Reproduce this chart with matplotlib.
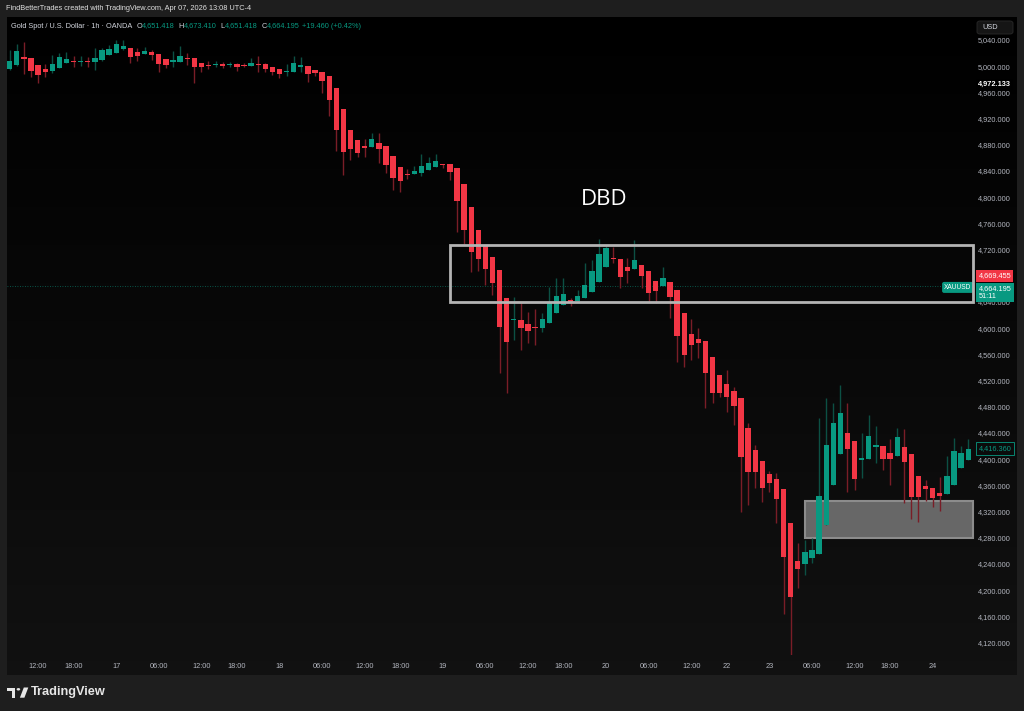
import numpy as np
import matplotlib
matplotlib.use('Agg')
import matplotlib.pyplot as plt
from matplotlib.patches import Rectangle, FancyBboxPatch, Circle, Polygon

# Dades de les espelmes (XAUUSD 1h, 16/03 08:00 -> 24/03 05:00)
opens = [4995.2, 5001.3, 5013.5, 5012.0, 5002.3, 4995.2, 4992.7, 4996.7, 5005.4, 5008.4,
         5006.4, 5008.0, 5006.4, 5009.5, 5016.6, 5020.7, 5026.8, 5028.3, 5021.2, 5018.6,
         5021.2, 5018.6, 5011.5, 5006.4, 5006.9, 5012.5, 5012.0, 5004.9, 5002.3, 5001.8,
         5003.4, 5001.3, 5002.8, 5002.3, 5000.8, 5003.4, 5002.8, 4998.8, 4995.2, 4991.7,
         4991.7, 4998.3, 5000.3, 4994.2, 4991.7, 4985.0, 4966.2, 4934.1, 4902.1, 4887.8,
         4877.7, 4876.1, 4883.3, 4877.7, 4863.4, 4846.1, 4835.9, 4834.9, 4837.5, 4842.0,
         4846.6, 4851.2, 4850.7, 4844.1, 4820.2, 4784.6, 4750.0, 4726.6, 4709.3, 4688.9,
         4645.6, 4612.0, 4612.5, 4606.4, 4601.4, 4600.8, 4607.5, 4622.7, 4635.5, 4643.1,
         4642.1, 4645.6, 4655.8, 4671.1, 4693.0, 4707.2, 4705.2, 4693.0, 4689.9, 4696.5,
         4687.9, 4672.1, 4664.5, 4670.1, 4658.4, 4622.7, 4590.6, 4583.0, 4580.5, 4556.5,
         4528.1, 4514.8, 4504.1, 4492.9, 4447.2, 4414.0, 4397.3, 4376.9, 4369.3, 4354.0,
         4302.1, 4245.1, 4239.5, 4248.7, 4255.3, 4299.6, 4360.6, 4407.9, 4439.5, 4427.3,
         4398.8, 4400.3, 4418.1, 4420.1, 4410.0, 4405.4, 4419.1, 4407.4, 4374.3, 4359.1,
         4355.5, 4348.9, 4346.3, 4360.1, 4386.6, 4398.8]
highs = [5024.7, 5033.9, 5037.5, 5012.0, 5002.3, 5003.4, 5017.1, 5019.6, 5021.2, 5015.6,
         5015.6, 5014.6, 5027.3, 5027.3, 5032.4, 5040.0, 5040.0, 5028.3, 5027.3, 5028.8,
         5024.7, 5018.6, 5011.5, 5023.2, 5030.8, 5019.6, 5012.0, 5004.9, 5008.0, 5008.4,
         5006.9, 5006.9, 5004.4, 5004.4, 5012.0, 5016.0, 5005.4, 4998.8, 4995.2, 5002.8,
         5016.0, 5014.6, 5000.3, 4994.2, 4991.7, 4985.0, 4966.2, 4934.1, 4902.1, 4887.8,
         4889.4, 4897.5, 4898.5, 4877.7, 4863.4, 4846.1, 4842.5, 4847.6, 4866.0, 4861.9,
         4866.0, 4851.2, 4850.7, 4844.1, 4820.2, 4784.6, 4750.0, 4726.6, 4709.3, 4688.9,
         4645.6, 4648.2, 4638.0, 4625.3, 4628.8, 4622.7, 4663.5, 4676.2, 4676.2, 4645.6,
         4658.4, 4699.1, 4704.2, 4735.7, 4727.1, 4723.5, 4705.2, 4706.7, 4734.7, 4696.5,
         4687.9, 4672.1, 4694.0, 4670.1, 4658.4, 4622.7, 4613.5, 4599.8, 4580.5, 4556.5,
         4528.1, 4536.2, 4510.8, 4492.9, 4454.8, 4421.7, 4397.3, 4382.0, 4379.4, 4354.0,
         4302.1, 4271.6, 4276.6, 4279.2, 4462.4, 4492.9, 4485.3, 4513.3, 4486.3, 4427.3,
         4439.5, 4467.5, 4450.7, 4420.1, 4430.3, 4448.1, 4446.1, 4407.4, 4374.3, 4368.2,
         4355.5, 4373.3, 4404.9, 4432.9, 4420.7, 4430.3]
lows = [4994.0, 5000.3, 4987.6, 4983.0, 4973.8, 4984.0, 4990.0, 4996.7, 5004.4, 4999.3,
        5000.3, 4998.3, 4994.2, 5008.4, 5016.6, 5020.7, 5024.7, 5004.4, 5008.4, 5018.6,
        5009.5, 4991.7, 4996.7, 4999.3, 5006.9, 5001.8, 4973.8, 4991.7, 4995.7, 4999.3,
        4996.7, 4998.3, 4993.2, 4998.3, 5000.8, 4990.6, 4991.7, 4986.6, 4981.5, 4985.0,
        4991.7, 4991.7, 4976.4, 4985.0, 4958.6, 4924.0, 4871.0, 4833.9, 4856.8, 4860.9,
        4860.9, 4876.1, 4851.7, 4837.5, 4811.0, 4808.0, 4828.3, 4834.9, 4832.4, 4842.0,
        4846.6, 4844.0, 4826.3, 4747.4, 4728.6, 4686.3, 4687.9, 4666.0, 4650.7, 4531.1,
        4501.6, 4582.0, 4566.8, 4577.0, 4574.4, 4594.7, 4607.5, 4622.7, 4635.5, 4633.9,
        4642.1, 4645.6, 4655.8, 4671.1, 4693.0, 4700.1, 4660.9, 4668.5, 4689.9, 4660.9,
        4640.6, 4638.0, 4664.5, 4615.1, 4548.9, 4541.3, 4551.4, 4554.0, 4477.7, 4485.3,
        4494.5, 4472.6, 4452.2, 4319.9, 4330.1, 4355.5, 4335.2, 4350.4, 4303.1, 4163.7,
        4099.0, 4202.8, 4223.2, 4241.0, 4255.3, 4299.6, 4360.6, 4407.9, 4350.4, 4353.0,
        4370.8, 4400.3, 4393.7, 4383.5, 4360.6, 4405.4, 4332.6, 4308.2, 4304.6, 4336.7,
        4326.5, 4320.9, 4346.3, 4360.1, 4386.6, 4398.8]
closes = [5008.4, 5023.7, 5011.5, 4992.7, 4986.6, 4991.7, 5002.8, 5013.5, 5011.0, 5005.9,
          5007.4, 5006.0, 5012.5, 5024.7, 5025.7, 5033.4, 5030.3, 5013.5, 5015.6, 5023.2,
          5017.1, 5003.4, 5001.8, 5009.0, 5016.1, 5011.5, 4998.3, 4998.3, 5000.8, 5003.9,
          5000.8, 5003.9, 4999.3, 5000.8, 5004.4, 5001.8, 4996.2, 4990.6, 4987.6, 4993.2,
          5004.4, 5001.8, 4988.1, 4989.1, 4976.9, 4948.4, 4902.6, 4869.5, 4874.1, 4867.0,
          4874.6, 4889.4, 4873.1, 4849.2, 4828.8, 4825.2, 4833.9, 4839.5, 4847.6, 4852.7,
          4855.8, 4849.2, 4838.5, 4794.7, 4750.0, 4715.9, 4705.2, 4689.9, 4669.5, 4602.4,
          4579.5, 4613.6, 4600.8, 4595.8, 4599.9, 4614.0, 4638.0, 4649.2, 4652.3, 4640.6,
          4649.2, 4666.0, 4687.4, 4713.3, 4722.0, 4705.2, 4678.7, 4687.4, 4704.2, 4679.7,
          4654.3, 4656.8, 4676.2, 4647.2, 4588.1, 4559.1, 4574.4, 4578.0, 4532.1, 4500.6,
          4501.6, 4494.5, 4481.8, 4402.9, 4381.0, 4381.0, 4356.1, 4363.2, 4339.8, 4251.2,
          4189.1, 4232.4, 4258.8, 4261.4, 4344.3, 4421.7, 4454.7, 4471.0, 4415.0, 4370.3,
          4402.3, 4435.9, 4422.2, 4399.8, 4399.8, 4433.4, 4395.7, 4342.8, 4342.8, 4354.0,
          4341.3, 4343.3, 4374.3, 4412.5, 4410.0, 4415.6]

time_tick_pos = [4, 9, 15, 21, 27, 32, 38, 44, 50, 55, 61, 67, 73, 78, 84, 90, 96, 101, 107, 113, 119, 124, 130]
time_tick_labels = ['12:00', '18:00', '17', '06:00', '12:00', '18:00', '18', '06:00', '12:00', '18:00',
                    '19', '06:00', '12:00', '18:00', '20', '06:00', '12:00', '22', '23', '06:00',
                    '12:00', '18:00', '24']
price_ticks = list(range(4120, 5041, 40))

# Zones dibuixades (inici en espelma, preu baix, preu alt)
dbd_zone = (62.0, 4639.5, 4727.1)
demand_zone = (112.0, 4280.2, 4336.2)
zone_end = 135.68

last_price = 4664.195
red_price = 4669.455
high_mark = 4972.133
close_mark = 4416.360

UP = '#089981'
DOWN = '#f23645'
UP_WICK = '#0c5044'
DOWN_WICK = '#7a1d27'
TXT = '#d1d4dc'
TICK = '#b2b5be'
FONT = 'Liberation Sans'

W, H = 1024, 711
fig = plt.figure(figsize=(W / 100, H / 100), dpi=100, facecolor='#1e1e1e')


def box(x0, y0, x1, y1):  # rectangle en pixels (origen a dalt a l'esquerra) -> coordenades de figura
    return [x0 / W, 1 - y1 / H, (x1 - x0) / W, (y1 - y0) / H]


def pt(x, y):
    return (x / W, 1 - y / H)


# Fons del panell amb degradat
bg = fig.add_axes(box(7, 17, 1017, 675))
grad = np.linspace(0.0, 0.068, 256).reshape(-1, 1)
bg.imshow(np.dstack([grad, grad, grad]), aspect='auto', extent=[0, 1, 0, 1], origin='upper')
bg.set_axis_off()

ax = fig.add_axes(box(7, 17, 975, 655))
ax.set_facecolor('none')
ax.set_xlim(-0.38, 135.96)
ax.set_ylim(4101.1, 5075.1)
for s in ax.spines.values():
    s.set_visible(False)

idx = np.arange(len(opens))
o = np.array(opens)
c = np.array(closes)
up = c >= o
body_col = np.where(up, UP, DOWN)
wick_col = np.where(up, UP_WICK, DOWN_WICK)

# Zones
ax.add_patch(Rectangle((demand_zone[0], demand_zone[1]), zone_end - demand_zone[0],
                       demand_zone[2] - demand_zone[1], facecolor='#676767', edgecolor='#8c8c8c',
                       lw=1.5, zorder=1))
ax.add_patch(Rectangle((dbd_zone[0], dbd_zone[1]), zone_end - dbd_zone[0],
                       dbd_zone[2] - dbd_zone[1], facecolor='none', edgecolor='#b4b4b4',
                       lw=2, zorder=4))

# Linia de preu actual
ax.axhline(last_price, color=UP, lw=0.6, ls=(0, (1, 2)), alpha=0.7, zorder=1)

# Espelmes
ax.vlines(idx, lows, highs, colors=wick_col, lw=1, zorder=2)
heights = np.maximum(np.abs(c - o), 1.3)
ax.bar(idx, heights, bottom=np.minimum(o, c), width=0.74, color=body_col, lw=0, zorder=3)

ax.text(83.8, 4796.5, 'DBD', color='white', fontsize=16, family='Open Sans',
        ha='center', va='center', zorder=5)

# Eixos
ax.yaxis.tick_right()
ax.set_yticks(price_ticks)
ax.set_yticklabels([f'{p:,.3f}' for p in price_ticks])
ax.tick_params(axis='y', length=0, pad=2.2, labelsize=5.3, labelcolor=TICK)
ax.set_xticks(time_tick_pos)
ax.set_xticklabels(time_tick_labels)
ax.tick_params(axis='x', length=0, pad=5.5, labelsize=5.3, labelcolor=TICK)
for lab in ax.get_xticklabels() + ax.get_yticklabels():
    lab.set_family(FONT)

ytr = ax.get_yaxis_transform()
ax.text(1.003, high_mark, f'{high_mark:,.3f}', transform=ytr, ha='left', va='center',
        fontsize=5.3, family=FONT, weight='bold', color='white', zorder=6,
        bbox=dict(boxstyle='square,pad=0.3', fc='#000000', ec='none'))
ax.annotate(f'{red_price:,.3f}', xy=(1.0, red_price), xycoords=ytr, xytext=(2.6, 4.8),
            textcoords='offset points', ha='left', va='center', fontsize=5.3, family=FONT,
            color='white', annotation_clip=False,
            bbox=dict(boxstyle='square,pad=0.3', fc=DOWN, ec='none'))
ax.annotate(f'{last_price:,.3f}\n51:11', xy=(1.0, last_price), xytext=(2.6, 0.9),
            xycoords=ytr, textcoords='offset points', ha='left', va='top', fontsize=5.3,
            family=FONT, color='white', linespacing=1.25, annotation_clip=False,
            bbox=dict(boxstyle='square,pad=0.3', fc=UP, ec='none'))
ax.annotate('XAUUSD', xy=(1.0, last_price), xytext=(-12.4, -0.9), xycoords=ytr,
            textcoords='offset points', ha='center', va='center', fontsize=4.8, family=FONT,
            color='white', annotation_clip=False,
            bbox=dict(boxstyle='round,pad=0.3,rounding_size=0.3', fc=UP, ec='none'))
ax.text(1.004, close_mark, f'{close_mark:,.3f}', transform=ytr, ha='left', va='center',
        fontsize=5.3, family=FONT, color=UP, zorder=6,
        bbox=dict(boxstyle='square,pad=0.35', fc='#0b0b0b', ec=UP, lw=0.6))

# Caixa USD
fig.add_artist(FancyBboxPatch(pt(977, 34), 36 / W, 13 / H, boxstyle='round,pad=0,rounding_size=0.003',
                              fc='#151515', ec='#2a2a2a', lw=0.6, transform=fig.transFigure))
fig.text(*pt(982, 27.5), 'USD', fontsize=5.3, family=FONT, color=TXT, va='center')

# Capçalera
fig.text(*pt(6, 9), 'FindBetterTrades created with TradingView.com, Apr 07, 2026 13:08 UTC-4',
         fontsize=5.3, family=FONT, color='#e0e0e0', va='center')
fig.text(*pt(11, 26), 'Gold Spot / U.S. Dollar · 1h · OANDA', fontsize=5.3, family=FONT,
         color=TXT, va='center')
for lx, letter, value in [(136.7, 'O', '4,651.418'), (178.7, 'H', '4,673.410'),
                          (220.3, 'L', '4,651.418'), (262.0, 'C', '4,664.195')]:
    fig.text(*pt(lx, 26), letter, fontsize=5.3, family=FONT, color=TXT, va='center')
    fig.text(*pt(lx + 4.8, 26), value, fontsize=5.3, family=FONT, color=UP, va='center')
fig.text(*pt(302, 26), '+19.460 (+0.42%)', fontsize=5.3, family=FONT, color=UP, va='center')

# Logo TradingView
logo = '#e6e6e6'
fig.add_artist(Polygon([pt(7.3, 687.5), pt(15.2, 687.5), pt(15.2, 697.7), pt(11.6, 697.7),
                        pt(11.6, 691.0), pt(7.3, 691.0)], closed=True, fc=logo, ec='none',
                       transform=fig.transFigure))
fig.add_artist(Circle(pt(18.4, 689.3), 1.8 / W, fc=logo, ec='none', transform=fig.transFigure))
fig.add_artist(Polygon([pt(23.8, 687.5), pt(28.3, 687.5), pt(24.4, 697.7), pt(19.9, 697.7)],
                       closed=True, fc=logo, ec='none', transform=fig.transFigure))
fig.text(*pt(31, 692.5), 'TradingView', fontsize=9.2, family=FONT, weight='bold',
         color=logo, va='center')

fig.savefig('out.png', dpi=100, facecolor=fig.get_facecolor())
